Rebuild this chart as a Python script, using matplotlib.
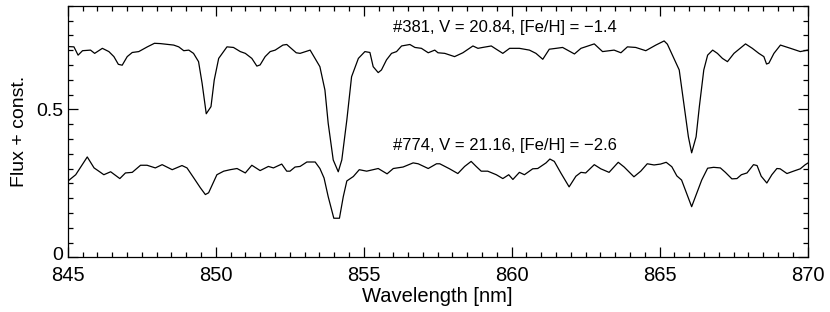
import matplotlib
matplotlib.use("Agg")
import matplotlib.pyplot as plt
import matplotlib.transforms as mtransforms
from matplotlib.ticker import MultipleLocator
import numpy as np

plt.rcParams["font.family"] = ["Liberation Sans", "DejaVu Sans"]

# Star #381 (upper spectrum)
wl_381 = [845.00, 845.21, 845.35, 845.50, 845.77, 845.91, 846.17, 846.39, 846.56, 846.71,
          846.84, 847.01, 847.18, 847.40, 847.69, 847.93, 848.13, 848.58, 848.75, 848.92,
          849.09, 849.25, 849.42, 849.54, 849.68, 849.84, 849.95, 850.10, 850.38, 850.60,
          850.83, 851.00, 851.22, 851.39, 851.50, 851.67, 851.84, 852.01, 852.27, 852.40,
          852.72, 852.85, 853.19, 853.52, 853.69, 853.80, 853.97, 854.14, 854.26, 854.43,
          854.59, 854.82, 855.04, 855.21, 855.32, 855.49, 855.60, 855.77, 855.94, 856.11,
          856.28, 856.56, 856.73, 856.95, 857.18, 857.40, 857.51, 857.74, 858.07, 858.35,
          858.69, 858.86, 859.02, 859.31, 859.48, 859.70, 859.93, 860.26, 860.60, 860.82,
          861.05, 861.27, 861.50, 861.72, 862.12, 862.34, 862.79, 863.07, 863.46, 863.69,
          863.91, 864.19, 864.53, 864.87, 865.15, 865.26, 865.43, 865.66, 865.83, 865.97,
          866.08, 866.23, 866.34, 866.49, 866.62, 866.79, 866.95, 867.12, 867.29, 867.51,
          867.90, 868.13, 868.35, 868.52, 868.61, 868.69, 868.86, 869.08, 869.42, 869.75,
          870.00]
flux_381 = [0.712, 0.711, 0.683, 0.698, 0.700, 0.689, 0.706, 0.695, 0.678, 0.652,
            0.649, 0.678, 0.692, 0.695, 0.711, 0.723, 0.722, 0.717, 0.711, 0.698,
            0.700, 0.689, 0.661, 0.588, 0.485, 0.509, 0.599, 0.672, 0.711, 0.709,
            0.695, 0.689, 0.672, 0.646, 0.650, 0.678, 0.695, 0.700, 0.717, 0.719,
            0.691, 0.689, 0.700, 0.644, 0.565, 0.453, 0.329, 0.289, 0.329, 0.464,
            0.610, 0.672, 0.695, 0.692, 0.644, 0.624, 0.633, 0.667, 0.689, 0.695,
            0.714, 0.719, 0.709, 0.706, 0.691, 0.700, 0.691, 0.689, 0.678, 0.691,
            0.714, 0.706, 0.709, 0.714, 0.703, 0.689, 0.706, 0.706, 0.700, 0.689,
            0.669, 0.703, 0.706, 0.709, 0.687, 0.706, 0.721, 0.695, 0.700, 0.691,
            0.711, 0.709, 0.698, 0.717, 0.731, 0.720, 0.683, 0.633, 0.509, 0.407,
            0.353, 0.407, 0.509, 0.633, 0.683, 0.700, 0.689, 0.672, 0.661, 0.689,
            0.721, 0.706, 0.689, 0.678, 0.653, 0.656, 0.689, 0.717, 0.706, 0.695,
            0.700]

# Star #774 (lower spectrum)
wl_774 = [845.00, 845.27, 845.66, 845.89, 846.05, 846.22, 846.45, 846.76, 846.95, 847.18,
          847.46, 847.68, 847.96, 848.19, 848.53, 848.86, 849.03, 849.26, 849.48, 849.65,
          849.76, 850.04, 850.27, 850.49, 850.72, 851.00, 851.22, 851.50, 851.78, 851.95,
          852.23, 852.40, 852.51, 852.68, 852.85, 853.08, 853.36, 853.52, 853.66, 853.80,
          853.99, 854.18, 854.31, 854.43, 854.65, 854.85, 855.10, 855.49, 855.79, 856.00,
          856.33, 856.67, 856.84, 857.18, 857.46, 857.57, 857.90, 858.18, 858.41, 858.63,
          858.80, 858.97, 859.19, 859.48, 859.70, 859.90, 860.04, 860.26, 860.43, 860.71,
          860.88, 861.16, 861.29, 861.44, 861.66, 861.94, 862.17, 862.34, 862.50, 862.79,
          863.01, 863.29, 863.60, 863.80, 864.13, 864.36, 864.58, 864.81, 865.03, 865.22,
          865.41, 865.58, 865.74, 865.91, 866.08, 866.25, 866.42, 866.62, 866.82, 867.05,
          867.22, 867.44, 867.61, 867.76, 867.95, 868.17, 868.29, 868.43, 868.62, 868.79,
          868.96, 869.07, 869.30, 869.52, 869.75, 869.92, 870.00]
flux_774 = [0.257, 0.279, 0.339, 0.302, 0.291, 0.279, 0.289, 0.266, 0.285, 0.287,
            0.311, 0.311, 0.302, 0.313, 0.296, 0.310, 0.302, 0.268, 0.235, 0.212,
            0.218, 0.279, 0.291, 0.296, 0.300, 0.285, 0.311, 0.293, 0.307, 0.302,
            0.315, 0.291, 0.291, 0.305, 0.307, 0.322, 0.322, 0.300, 0.268, 0.205,
            0.132, 0.132, 0.205, 0.258, 0.273, 0.296, 0.291, 0.300, 0.282, 0.300,
            0.305, 0.319, 0.316, 0.300, 0.316, 0.316, 0.299, 0.283, 0.307, 0.324,
            0.307, 0.291, 0.291, 0.279, 0.266, 0.279, 0.263, 0.287, 0.279, 0.299,
            0.300, 0.319, 0.332, 0.324, 0.285, 0.238, 0.274, 0.287, 0.285, 0.313,
            0.299, 0.287, 0.321, 0.305, 0.272, 0.291, 0.316, 0.312, 0.315, 0.321,
            0.306, 0.275, 0.261, 0.216, 0.171, 0.216, 0.261, 0.301, 0.304, 0.302,
            0.287, 0.265, 0.266, 0.279, 0.285, 0.313, 0.310, 0.274, 0.251, 0.279,
            0.300, 0.299, 0.283, 0.291, 0.299, 0.313, 0.318]

labels = ["#381, V = 20.84, [Fe/H] = \u22121.4", "#774, V = 21.16, [Fe/H] = \u22122.6"]

fig = plt.figure(figsize=(8.3, 3.12), dpi=100)
ax = fig.add_axes([0.0816, 0.1753, 0.8915, 0.8064])

ax.plot(wl_381, flux_381, color="black", linewidth=0.9)
ax.plot(wl_774, flux_774, color="black", linewidth=0.9)

ax.text(856.0, 0.762, labels[0], fontsize=12, ha="left", va="baseline")
ax.text(856.0, 0.3625, labels[1], fontsize=12, ha="left", va="baseline")

ax.set_xlim(845, 870)
ax.set_ylim(0, 0.85)
ax.xaxis.set_major_locator(MultipleLocator(5))
ax.xaxis.set_minor_locator(MultipleLocator(0.5))
ax.yaxis.set_minor_locator(MultipleLocator(0.05))
ax.set_yticks([0, 0.5])
ax.set_yticklabels(["0", "0.5"])
ax.tick_params(which="both", direction="in", top=True, right=True, width=0.9)
ax.tick_params(which="major", length=7)
ax.tick_params(which="minor", length=3.5)
ax.tick_params(axis="x", which="major", pad=6, labelsize=14.5)
ax.tick_params(axis="y", which="major", pad=3, labelsize=14)
for spine in ax.spines.values():
    spine.set_linewidth(0.9)

# the "0" label sits just above the "845" label, nudge it up a little
fig.canvas.draw()
zero_label = ax.get_yticklabels()[0]
zero_label.set_transform(zero_label.get_transform()
                         + mtransforms.ScaledTranslation(0, 3 / 72, fig.dpi_scale_trans))

ax.set_xlabel("Wavelength [nm]", fontsize=14.5, labelpad=2)
ax.set_ylabel("Flux + const.", fontsize=14, labelpad=6)

fig.savefig("out.png", dpi=100)
